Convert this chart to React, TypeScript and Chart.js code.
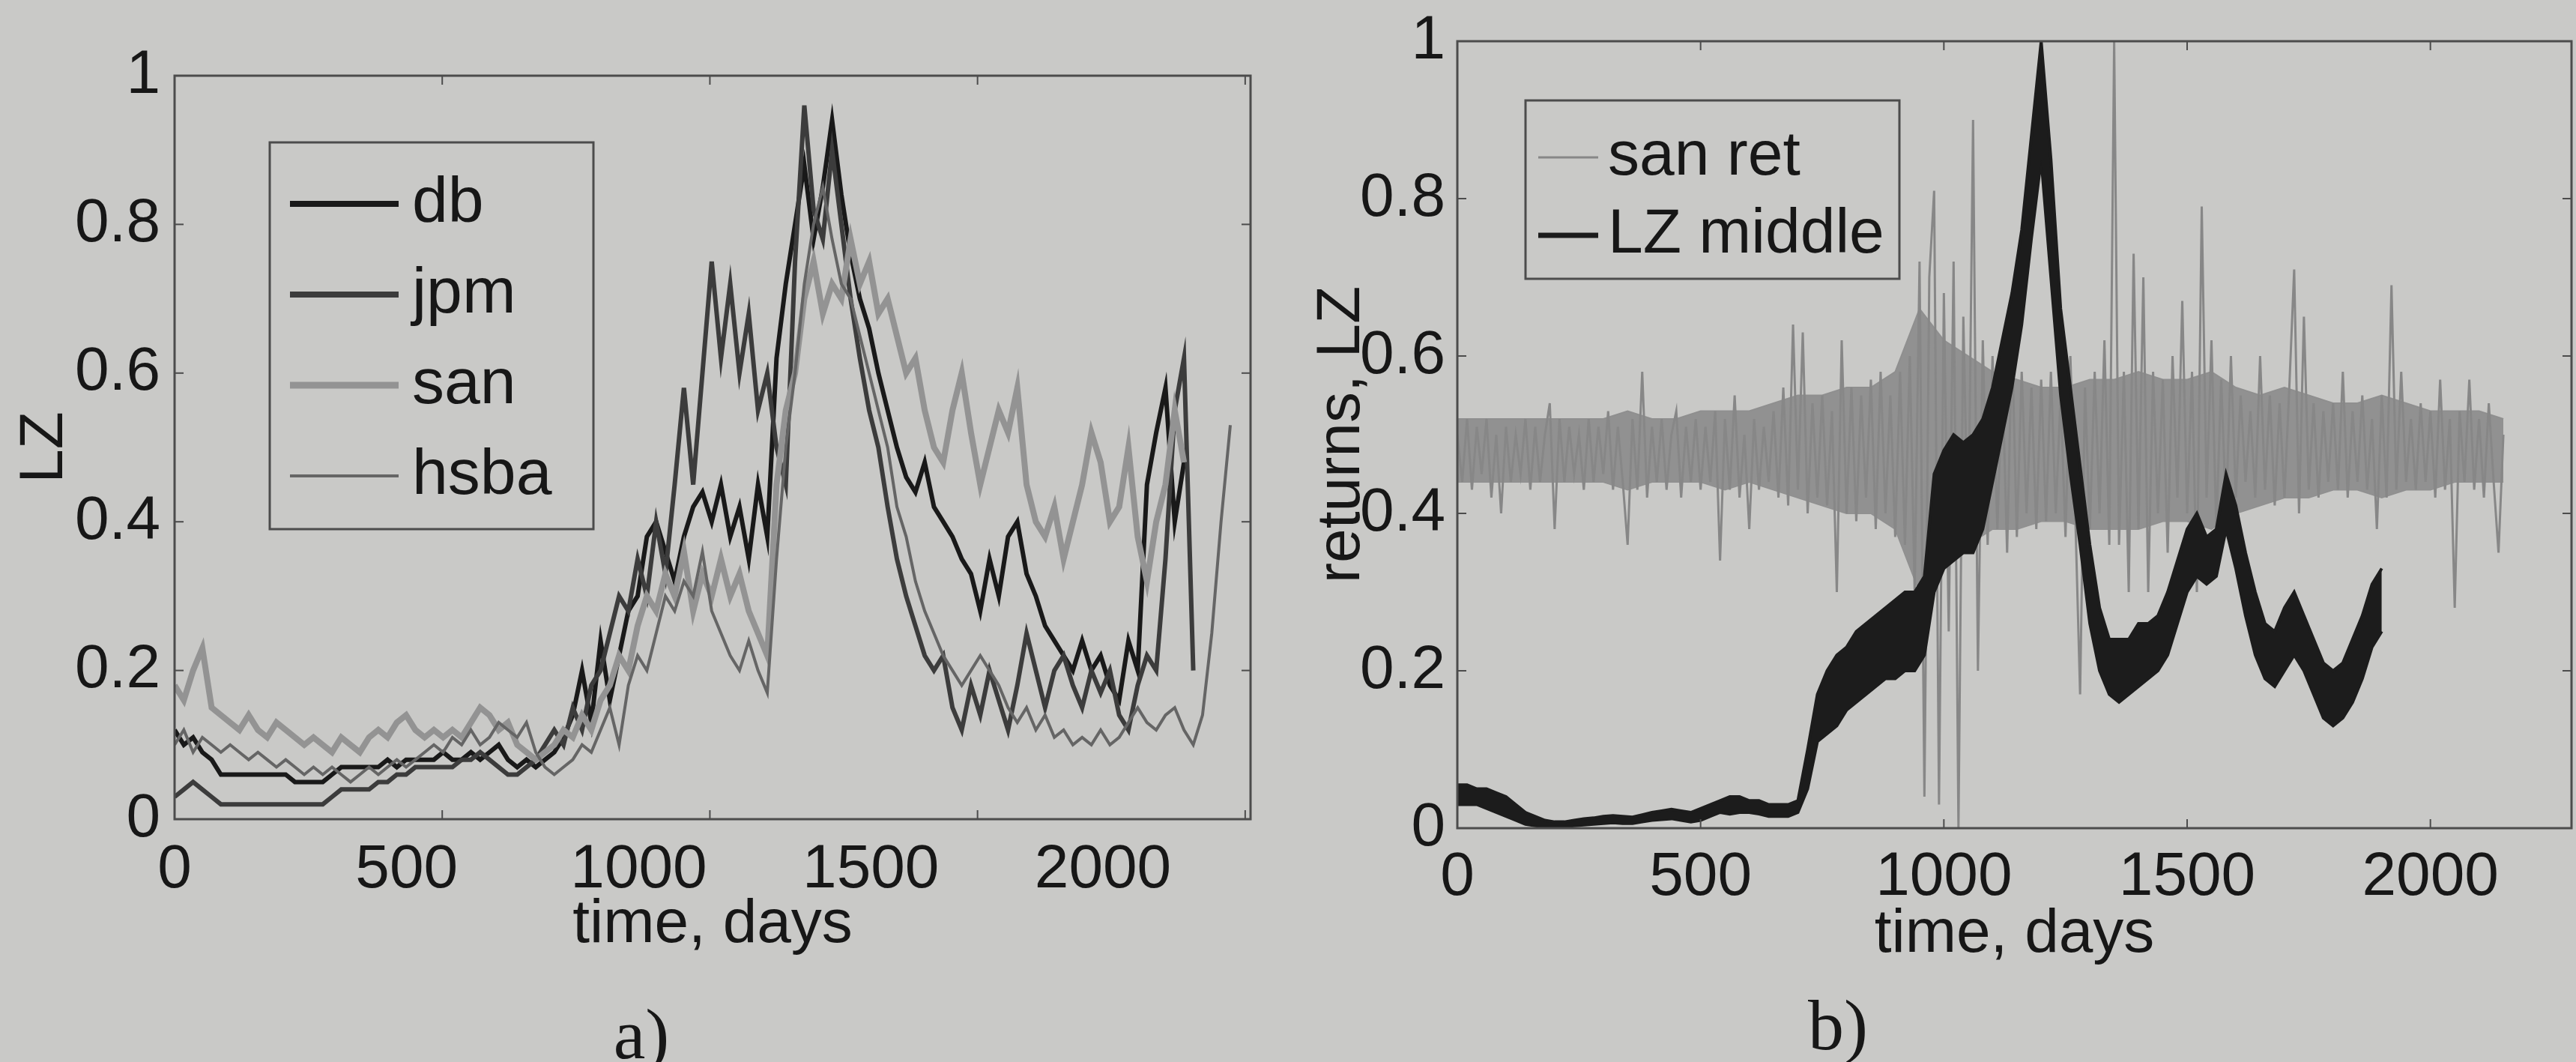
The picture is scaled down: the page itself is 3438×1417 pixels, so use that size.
import React, { useEffect, useRef } from "react";
import { Chart, registerables } from "chart.js";

Chart.register(...registerables);
Chart.defaults.font.family = '"Liberation Sans", Arial, sans-serif';

// ---------------- panel a) ----------------
const STEP_A = 17.3; // days between samples
const X_MAX_A = 2010; // data extent of panel a (tick marks)
const X_MAX_A_LABELS = 2318; // the printed tick labels sit on a wider spacing than the tick marks
const xTicks = [0, 500, 1000, 1500, 2000];
const yTicks = [0, 0.2, 0.4, 0.6, 0.8, 1];
const yTickLabels = ["0", "0.2", "0.4", "0.6", "0.8", "1"];

const db = [
  0.12, 0.10, 0.11, 0.09, 0.08, 0.06, 0.06, 0.06, 0.06, 0.06,
  0.06, 0.06, 0.06, 0.05, 0.05, 0.05, 0.05, 0.06, 0.07, 0.07,
  0.07, 0.07, 0.07, 0.08, 0.07, 0.08, 0.08, 0.08, 0.08, 0.09,
  0.08, 0.08, 0.09, 0.08, 0.09, 0.10, 0.08, 0.07, 0.08, 0.07,
  0.08, 0.09, 0.11, 0.14, 0.20, 0.13, 0.24, 0.16, 0.22, 0.28,
  0.30, 0.38, 0.40, 0.36, 0.32, 0.38, 0.42, 0.44, 0.40, 0.45,
  0.38, 0.42, 0.35, 0.45, 0.38, 0.62, 0.72, 0.80, 0.88, 0.78,
  0.85, 0.94, 0.84, 0.76, 0.70, 0.66, 0.60, 0.55, 0.50, 0.46,
  0.44, 0.48, 0.42, 0.40, 0.38, 0.35, 0.33, 0.28, 0.35, 0.30,
  0.38, 0.40, 0.33, 0.30, 0.26, 0.24, 0.22, 0.20, 0.24, 0.20,
  0.22, 0.18, 0.16, 0.24, 0.20, 0.45, 0.52, 0.58, 0.40, 0.48,
];
const jpm = [
  0.03, 0.04, 0.05, 0.04, 0.03, 0.02, 0.02, 0.02, 0.02, 0.02,
  0.02, 0.02, 0.02, 0.02, 0.02, 0.02, 0.02, 0.03, 0.04, 0.04,
  0.04, 0.04, 0.05, 0.05, 0.06, 0.06, 0.07, 0.07, 0.07, 0.07,
  0.07, 0.08, 0.08, 0.09, 0.08, 0.07, 0.06, 0.06, 0.07, 0.08,
  0.10, 0.12, 0.10, 0.15, 0.12, 0.18, 0.20, 0.25, 0.30, 0.28,
  0.35, 0.30, 0.40, 0.33, 0.45, 0.58, 0.45, 0.60, 0.75, 0.62,
  0.72, 0.60, 0.68, 0.55, 0.60, 0.50, 0.45, 0.75, 0.96, 0.82,
  0.78, 0.90, 0.80, 0.70, 0.62, 0.55, 0.50, 0.42, 0.35, 0.30,
  0.26, 0.22, 0.20, 0.22, 0.15, 0.12, 0.18, 0.14, 0.20, 0.16,
  0.12, 0.18, 0.25, 0.20, 0.15, 0.20, 0.22, 0.18, 0.15, 0.20,
  0.17, 0.20, 0.14, 0.12, 0.18, 0.22, 0.20, 0.35, 0.55, 0.62,
  0.20,
];
const san = [
  0.18, 0.16, 0.20, 0.23, 0.15, 0.14, 0.13, 0.12, 0.14, 0.12,
  0.11, 0.13, 0.12, 0.11, 0.10, 0.11, 0.10, 0.09, 0.11, 0.10,
  0.09, 0.11, 0.12, 0.11, 0.13, 0.14, 0.12, 0.11, 0.12, 0.11,
  0.12, 0.11, 0.13, 0.15, 0.14, 0.12, 0.13, 0.10, 0.09, 0.08,
  0.09, 0.10, 0.12, 0.11, 0.14, 0.12, 0.16, 0.18, 0.22, 0.20,
  0.26, 0.30, 0.28, 0.33, 0.30, 0.36, 0.28, 0.33, 0.30, 0.35,
  0.30, 0.33, 0.28, 0.25, 0.22, 0.45, 0.55, 0.60, 0.70, 0.75,
  0.68, 0.72, 0.70, 0.78, 0.72, 0.75, 0.68, 0.70, 0.65, 0.60,
  0.62, 0.55, 0.50, 0.48, 0.55, 0.60, 0.52, 0.45, 0.50, 0.55,
  0.52, 0.58, 0.45, 0.40, 0.38, 0.42, 0.35, 0.40, 0.45, 0.52,
  0.48, 0.40, 0.42, 0.50, 0.38, 0.32, 0.40, 0.45, 0.55, 0.48,
];
const hsba = [
  0.10, 0.12, 0.09, 0.11, 0.10, 0.09, 0.10, 0.09, 0.08, 0.09,
  0.08, 0.07, 0.08, 0.07, 0.06, 0.07, 0.06, 0.07, 0.06, 0.05,
  0.06, 0.07, 0.06, 0.07, 0.08, 0.07, 0.08, 0.09, 0.10, 0.09,
  0.11, 0.10, 0.12, 0.10, 0.11, 0.13, 0.12, 0.11, 0.13, 0.09,
  0.07, 0.06, 0.07, 0.08, 0.10, 0.09, 0.12, 0.15, 0.10, 0.18,
  0.22, 0.20, 0.25, 0.30, 0.28, 0.32, 0.30, 0.36, 0.28, 0.25,
  0.22, 0.20, 0.24, 0.20, 0.17, 0.35, 0.50, 0.60, 0.72, 0.80,
  0.85, 0.78, 0.72, 0.70, 0.65, 0.60, 0.55, 0.50, 0.42, 0.38,
  0.32, 0.28, 0.25, 0.22, 0.20, 0.18, 0.20, 0.22, 0.20, 0.18,
  0.15, 0.13, 0.15, 0.12, 0.14, 0.11, 0.12, 0.10, 0.11, 0.10,
  0.12, 0.10, 0.11, 0.13, 0.15, 0.13, 0.12, 0.14, 0.15, 0.12,
  0.10, 0.14, 0.25, 0.40, 0.53,
];

// ---------------- panel b) ----------------
const X_MAX_B = 2290;
const STEP_RET = 10; // days between samples of san ret (spikes)
const sanRet = [
  0.50, 0.44, 0.52, 0.43, 0.51, 0.45, 0.52, 0.42, 0.50, 0.40,
  0.51, 0.44, 0.50, 0.45, 0.52, 0.43, 0.51, 0.44, 0.50, 0.54,
  0.38, 0.52, 0.44, 0.51, 0.45, 0.50, 0.43, 0.52, 0.44, 0.51,
  0.45, 0.53, 0.43, 0.51, 0.44, 0.36, 0.52, 0.43, 0.58, 0.42,
  0.51, 0.44, 0.52, 0.43, 0.50, 0.53, 0.42, 0.51, 0.44, 0.52,
  0.43, 0.51, 0.44, 0.53, 0.34, 0.52, 0.43, 0.55, 0.42, 0.50,
  0.38, 0.52, 0.43, 0.51, 0.44, 0.53, 0.42, 0.56, 0.41, 0.64,
  0.43, 0.63, 0.40, 0.54, 0.42, 0.55, 0.41, 0.53, 0.30, 0.62,
  0.40, 0.56, 0.39, 0.55, 0.42, 0.57, 0.38, 0.58, 0.40, 0.55,
  0.37, 0.58, 0.36, 0.60, 0.30, 0.72, 0.04, 0.70, 0.81, 0.03,
  0.68, 0.25, 0.72, 0.00, 0.65, 0.35, 0.90, 0.20, 0.62, 0.36,
  0.60, 0.38, 0.58, 0.35, 0.62, 0.37, 0.58, 0.40, 0.56, 0.38,
  0.57, 0.39, 0.58, 0.40, 0.55, 0.37, 0.60, 0.40, 0.17, 0.56,
  0.38, 0.58, 0.40, 0.62, 0.36, 1.00, 0.36, 0.58, 0.30, 0.73,
  0.38, 0.70, 0.30, 0.58, 0.40, 0.57, 0.35, 0.60, 0.42, 0.67,
  0.40, 0.58, 0.30, 0.79, 0.42, 0.62, 0.38, 0.57, 0.40, 0.60,
  0.42, 0.55, 0.44, 0.53, 0.42, 0.60, 0.43, 0.55, 0.41, 0.54,
  0.42, 0.56, 0.71, 0.40, 0.65, 0.43, 0.54, 0.42, 0.53, 0.44,
  0.54, 0.43, 0.58, 0.42, 0.53, 0.44, 0.55, 0.43, 0.52, 0.38,
  0.55, 0.42, 0.69, 0.43, 0.58, 0.44, 0.52, 0.43, 0.54, 0.44,
  0.53, 0.42, 0.57, 0.43, 0.52, 0.28, 0.53, 0.44, 0.57, 0.43,
  0.52, 0.42, 0.54, 0.44, 0.35, 0.50,
];
// dense core of the san ret band (upper / lower edge every 50 days)
const STEP_CORE = 50;
const sanRetCoreUpper = [
  0.52, 0.52, 0.52, 0.52, 0.52, 0.52, 0.52, 0.53, 0.52, 0.52,
  0.53, 0.53, 0.53, 0.54, 0.55, 0.55, 0.56, 0.56, 0.58, 0.66,
  0.62, 0.60, 0.58, 0.57, 0.56, 0.56, 0.57, 0.57, 0.58, 0.57,
  0.57, 0.58, 0.56, 0.55, 0.56, 0.55, 0.54, 0.54, 0.55, 0.54,
  0.53, 0.53, 0.53, 0.52,
];
const sanRetCoreLower = [
  0.44, 0.44, 0.44, 0.44, 0.44, 0.44, 0.44, 0.43, 0.44, 0.44,
  0.44, 0.43, 0.44, 0.43, 0.42, 0.41, 0.40, 0.40, 0.38, 0.30,
  0.34, 0.36, 0.38, 0.38, 0.39, 0.39, 0.38, 0.38, 0.38, 0.39,
  0.39, 0.38, 0.40, 0.41, 0.42, 0.42, 0.43, 0.43, 0.42, 0.43,
  0.43, 0.44, 0.44, 0.44,
];
const STEP_LZ = 20; // days between samples of LZ middle
const lzMiddleUpper = [
  0.055, 0.055, 0.05, 0.05, 0.045, 0.04, 0.03, 0.02, 0.015, 0.01,
  0.008, 0.008, 0.01, 0.012, 0.013, 0.015, 0.016, 0.015, 0.014, 0.017,
  0.02, 0.022, 0.024, 0.022, 0.02, 0.025, 0.03, 0.035, 0.04, 0.04,
  0.035, 0.035, 0.03, 0.03, 0.03, 0.035, 0.10, 0.17, 0.20, 0.22,
  0.23, 0.25, 0.26, 0.27, 0.28, 0.29, 0.30, 0.30, 0.32, 0.45,
  0.48, 0.50, 0.49, 0.50, 0.52, 0.56, 0.62, 0.68, 0.76, 0.88,
  1.00, 0.85, 0.66, 0.56, 0.46, 0.36, 0.28, 0.24, 0.24, 0.24,
  0.26, 0.26, 0.27, 0.30, 0.34, 0.38, 0.40, 0.37, 0.38, 0.45,
  0.41, 0.35, 0.30, 0.26, 0.25, 0.28, 0.30, 0.27, 0.24, 0.21,
  0.20, 0.21, 0.24, 0.27, 0.31, 0.33,
];
const lzMiddleLower = [
  0.03, 0.03, 0.03, 0.025, 0.02, 0.015, 0.01, 0.005, 0.003, 0.002,
  0.002, 0.002, 0.003, 0.004, 0.005, 0.006, 0.007, 0.006, 0.006, 0.008,
  0.01, 0.011, 0.012, 0.01, 0.008, 0.01, 0.015, 0.02, 0.018, 0.02,
  0.02, 0.018, 0.015, 0.015, 0.015, 0.02, 0.05, 0.11, 0.12, 0.13,
  0.15, 0.16, 0.17, 0.18, 0.19, 0.19, 0.20, 0.20, 0.22, 0.30,
  0.33, 0.34, 0.35, 0.35, 0.38, 0.44, 0.50, 0.56, 0.64, 0.75,
  0.85, 0.70, 0.55, 0.45, 0.36, 0.26, 0.20, 0.17, 0.16, 0.17,
  0.18, 0.19, 0.20, 0.22, 0.26, 0.30, 0.32, 0.31, 0.32, 0.38,
  0.33, 0.27, 0.22, 0.19, 0.18, 0.20, 0.22, 0.20, 0.17, 0.14,
  0.13, 0.14, 0.16, 0.19, 0.23, 0.25,
];

// ---------------- styling ----------------
const PAGE_W = 3438;
const PAGE_H = 1417;
const PAPER = "#c9c9c7";
const INK = "#171717";
const FRAME = "#4c4c4c";
const FONT = '"Liberation Sans", Arial, sans-serif';
const TICK_FONT = { size: 82, lineHeight: 1, family: FONT };

const toPoints = (vals: number[], step: number) =>
  vals.map((v, i) => ({ x: i * step, y: v }));

const panelPlugin = {
  id: "panel",
  afterDatasetsDraw(chart: any, _args: any, opts: any) {
    const { ctx, chartArea: a, scales } = chart;
    ctx.save();
    const seg = (x0: number, y0: number, x1: number, y1: number) => {
      ctx.beginPath();
      ctx.moveTo(x0, y0);
      ctx.lineTo(x1, y1);
      ctx.stroke();
    };
    // axes box
    ctx.strokeStyle = FRAME;
    ctx.lineWidth = 3;
    ctx.strokeRect(a.left, a.top, a.right - a.left, a.bottom - a.top);
    // inward tick marks on the data scales
    ctx.lineWidth = 2;
    const tl = 12;
    scales.x.ticks.forEach((t: any) => {
      const px = scales.x.getPixelForValue(t.value);
      seg(px, a.bottom, px, a.bottom - tl);
      seg(px, a.top, px, a.top + tl);
    });
    scales.y.ticks.forEach((t: any) => {
      const py = scales.y.getPixelForValue(t.value);
      seg(a.left, py, a.left + tl, py);
      seg(a.right, py, a.right - tl, py);
    });
    // legend box
    const L = opts.legend;
    ctx.fillStyle = PAPER;
    ctx.fillRect(L.x, L.y, L.w, L.h);
    ctx.strokeStyle = FRAME;
    ctx.lineWidth = 3;
    ctx.strokeRect(L.x, L.y, L.w, L.h);
    ctx.font = `${L.fontSize}px ${FONT}`;
    ctx.textBaseline = "middle";
    ctx.textAlign = "left";
    L.items.forEach((it: any, k: number) => {
      const ds = chart.data.datasets[it.index];
      const y = L.y + L.firstRow + k * L.rowGap;
      ctx.strokeStyle = ds.borderColor;
      ctx.lineWidth = it.width;
      seg(L.x + L.lineX0, y, L.x + L.lineX1, y);
      ctx.fillStyle = INK;
      ctx.fillText(ds.label, L.x + L.textX, y);
    });
    ctx.restore();
  },
};

const labelAxis = (max: number, height: number, pad: number, weight: number) => ({
  type: "linear",
  axis: "x",
  position: "bottom",
  weight,
  min: 0,
  max,
  afterBuildTicks: (s: any) => {
    s.ticks = xTicks.map((v) => ({ value: v }));
  },
  afterFit: (s: any) => {
    s.height = height;
  },
  grid: { display: false },
  border: { display: false },
  ticks: {
    font: TICK_FONT,
    color: INK,
    padding: pad,
    maxRotation: 0,
    autoSkip: false,
    callback: (v: any) => String(v),
  },
  title: {
    display: true,
    text: "time, days",
    font: TICK_FONT,
    color: INK,
    padding: 0,
  },
});

const yAxis = (width: number, pad: number, title: string, titlePad: number) => ({
  type: "linear",
  min: 0,
  max: 1,
  afterBuildTicks: (s: any) => {
    s.ticks = yTicks.map((v) => ({ value: v }));
  },
  afterFit: (s: any) => {
    s.width = width;
  },
  grid: { display: false },
  border: { display: false },
  ticks: {
    font: TICK_FONT,
    color: INK,
    padding: pad,
    autoSkip: false,
    callback: (_v: any, i: number) => yTickLabels[i],
  },
  title: {
    display: true,
    text: title,
    font: TICK_FONT,
    color: INK,
    padding: { top: titlePad, bottom: 0 },
  },
});

function makeConfigA(): any {
  return {
    type: "line",
    data: {
      datasets: [
        { label: "db", data: toPoints(db, STEP_A), borderColor: "#191919", borderWidth: 6, order: 4 },
        { label: "jpm", data: toPoints(jpm, STEP_A), borderColor: "#3c3c3c", borderWidth: 6, order: 3 },
        { label: "san", data: toPoints(san, STEP_A), borderColor: "#939393", borderWidth: 8, order: 2 },
        { label: "hsba", data: toPoints(hsba, STEP_A), borderColor: "#656565", borderWidth: 4, order: 1 },
      ],
    },
    options: {
      responsive: false,
      maintainAspectRatio: false,
      animation: false,
      devicePixelRatio: 1,
      elements: { point: { radius: 0 }, line: { tension: 0, fill: false } },
      layout: { padding: { left: 0, top: 101, right: 81, bottom: 142 } },
      plugins: {
        legend: { display: false },
        tooltip: { enabled: false },
        panel: {
          legend: {
            x: 360, y: 190, w: 432, h: 516, fontSize: 86,
            firstRow: 82, rowGap: 121, lineX0: 27, lineX1: 172, textX: 190,
            items: [
              { index: 0, width: 8 },
              { index: 1, width: 8 },
              { index: 2, width: 9 },
              { index: 3, width: 4 },
            ],
          },
        },
      },
      scales: {
        // data scale (tick marks)
        x: {
          type: "linear",
          position: "bottom",
          weight: 0,
          min: 0,
          max: X_MAX_A,
          afterBuildTicks: (s: any) => {
            s.ticks = xTicks.map((v) => ({ value: v }));
          },
          afterFit: (s: any) => {
            s.height = 0;
          },
          grid: { display: false },
          border: { display: false },
          ticks: { display: false },
          title: { display: false },
        },
        // printed tick labels
        xl: labelAxis(X_MAX_A_LABELS, 182, 19, 1),
        y: yAxis(233, 11, "LZ", 19),
      },
    },
    plugins: [panelPlugin],
  };
}

function makeConfigB(): any {
  const xb: any = labelAxis(X_MAX_B, 183, 17, 0);
  delete xb.axis;
  return {
    type: "line",
    data: {
      datasets: [
        { label: "san ret", data: toPoints(sanRet, STEP_RET), borderColor: "#878787", borderWidth: 3, order: 3, fill: false },
        { label: "LZ middle", data: toPoints(lzMiddleUpper, STEP_LZ), borderColor: "#1c1c1c", backgroundColor: "#1c1c1c", borderWidth: 4, order: 1, fill: "+1" },
        { label: "", data: toPoints(lzMiddleLower, STEP_LZ), borderColor: "#1c1c1c", borderWidth: 4, order: 2, fill: false },
        { label: "", data: toPoints(sanRetCoreUpper, STEP_CORE), borderColor: "#8f8f8f", backgroundColor: "#919191", borderWidth: 2, order: 4, fill: "+1" },
        { label: "", data: toPoints(sanRetCoreLower, STEP_CORE), borderColor: "#8f8f8f", borderWidth: 2, order: 5, fill: false },
      ],
    },
    options: {
      responsive: false,
      maintainAspectRatio: false,
      animation: false,
      devicePixelRatio: 1,
      elements: { point: { radius: 0 }, line: { tension: 0 } },
      layout: { padding: { left: 0, top: 55, right: 6, bottom: 129 } },
      plugins: {
        legend: { display: false },
        tooltip: { enabled: false },
        panel: {
          legend: {
            x: 286, y: 134, w: 499, h: 238, fontSize: 84,
            firstRow: 76, rowGap: 104, lineX0: 17, lineX1: 97, textX: 110,
            items: [
              { index: 0, width: 3 },
              { index: 1, width: 7 },
            ],
          },
        },
      },
      scales: {
        x: xb,
        y: yAxis(195, 8, "returns, LZ", 0),
      },
    },
    plugins: [panelPlugin],
  };
}

function Panel({ left, width, make }: { left: number; width: number; make: () => any }) {
  const ref = useRef<HTMLCanvasElement | null>(null);
  useEffect(() => {
    const chart = new Chart(ref.current as HTMLCanvasElement, make());
    return () => chart.destroy();
  }, [make]);
  return (
    <canvas
      ref={ref}
      width={width}
      height={PAGE_H}
      style={{ position: "absolute", left, top: 0, width, height: PAGE_H }}
    />
  );
}

const caption = (cx: number, cy: number): React.CSSProperties => ({
  position: "absolute",
  left: cx,
  top: cy,
  transform: "translate(-50%, -50%)",
  fontFamily: '"Liberation Serif", "Times New Roman", serif',
  fontSize: 96,
  lineHeight: 1,
  color: INK,
  whiteSpace: "nowrap",
});

export default function App() {
  return (
    <div
      style={{
        position: "absolute",
        left: 0,
        top: 0,
        width: PAGE_W,
        height: PAGE_H,
        background: PAPER,
        overflow: "hidden",
      }}
    >
      <Panel left={0} width={1750} make={makeConfigA} />
      <Panel left={1750} width={1688} make={makeConfigB} />
      <div style={caption(856, 1380)}>a)</div>
      <div style={caption(2453, 1368)}>b)</div>
    </div>
  );
}
